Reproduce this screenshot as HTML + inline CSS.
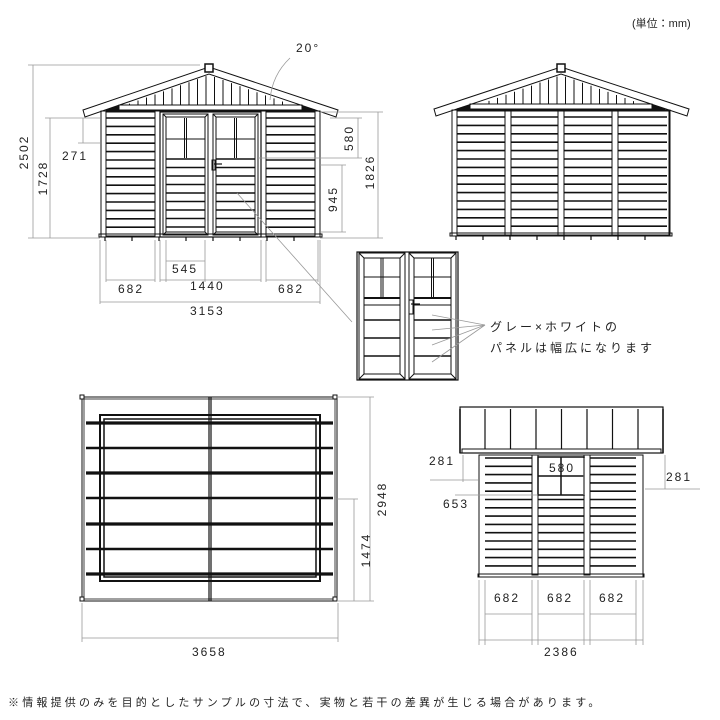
<!DOCTYPE html>
<html><head><meta charset="utf-8">
<style>
html,body{margin:0;padding:0;background:#fff;width:720px;height:720px;overflow:hidden}
svg{display:block}
text{font-family:"Liberation Sans","Noto Sans CJK JP",sans-serif;fill:#222}
.d{font-size:12px;letter-spacing:2px}
.j{font-size:12px;letter-spacing:3px}
</style></head><body>
<svg id="s" width="720" height="720" viewBox="0 0 720 720" xmlns="http://www.w3.org/2000/svg">
<g id="g" fill="none" stroke="#111" stroke-width="1"></g>
<g id="dim" fill="none" stroke="#999" stroke-width="0.8"></g>
<text x="632" y="27" style="font-size:11px">(単位：mm)</text>
<text class="d" x="296" y="52">20°</text>
<text class="d" transform="translate(28,152) rotate(-90)" text-anchor="middle">2502</text>
<text class="d" transform="translate(47,178) rotate(-90)" text-anchor="middle">1728</text>
<text class="d" x="62" y="160">271</text>
<text class="d" transform="translate(353,138) rotate(-90)" text-anchor="middle">580</text>
<text class="d" transform="translate(374,172) rotate(-90)" text-anchor="middle">1826</text>
<text class="d" transform="translate(337,199) rotate(-90)" text-anchor="middle">945</text>
<text class="d" x="172" y="273">545</text>
<text class="d" x="118" y="293">682</text>
<text class="d" x="190" y="290">1440</text>
<text class="d" x="278" y="293">682</text>
<text class="d" x="190" y="315">3153</text>
<text class="j" x="490" y="331">グレー×ホワイトの</text>
<text class="j" x="490" y="352">パネルは幅広になります</text>
<text class="d" transform="translate(386,499) rotate(-90)" text-anchor="middle">2948</text>
<text class="d" transform="translate(370,550) rotate(-90)" text-anchor="middle">1474</text>
<text class="d" x="192" y="656">3658</text>
<text class="d" x="429" y="465">281</text>
<text class="d" x="666" y="481">281</text>
<text class="d" x="443" y="508">653</text>
<text class="d" x="549" y="472">580</text>
<text class="d" x="494" y="602">682</text>
<text class="d" x="547" y="602">682</text>
<text class="d" x="599" y="602">682</text>
<text class="d" x="544" y="656">2386</text>
<text x="8" y="706" style="font-size:11px;letter-spacing:3.2px">※情報提供のみを目的としたサンプルの寸法で、実物と若干の差異が生じる場合があります。</text>
</svg>
<script>
var G=document.getElementById('g'),D=document.getElementById('dim'),NS='http://www.w3.org/2000/svg';
function el(p,t,a){var e=document.createElementNS(NS,t);for(var k in a)e.setAttribute(k,a[k]);p.appendChild(e);return e;}
function L(x1,y1,x2,y2,w,p){el(p||G,'line',{x1:x1,y1:y1,x2:x2,y2:y2,'stroke-width':w||1});}
function R(x,y,w,h,sw,f){el(G,'rect',{x:x,y:y,width:w,height:h,'stroke-width':sw||1,fill:f||'none'});}
function DL(x1,y1,x2,y2){L(x1,y1,x2,y2,0.8,D);}
function slats(x1,x2,y1,y2,st){for(var y=y1;y<=y2;y+=st){L(x1,y,x2,y,1.6);}}
function house(ax,ay,wl,wr,wt,wb,el1,er){
 el(G,'polygon',{points:[el1,wt-1,ax,ay,er,wt-1,er-2,wt+6,ax,ay+7,el1+2,wt+6].join(' '),'stroke-width':1});
 for(var x=wl+20;x<wr-15;x+=8.5){var dy=Math.abs(x-ax)*0.36;var yt=ay+8+dy;if(yt<wt-6)L(x,yt,x,wt-6,1);}
 R(wl+18,wt-6,wr-wl-36,5,1);
 el(G,'polygon',{points:[wl+5,wt-1,wl+18,wt-5,wl+18,wt-1].join(' '),fill:'#111'});
 el(G,'polygon',{points:[wr-5,wt-1,wr-18,wt-5,wr-18,wt-1].join(' '),fill:'#111'});
 R(ax-4,ay-3,8,8,1.5,'#fff');
 R(wl,wt,wr-wl,wb-wt,1);
 R(wl-2,wb-3,wr-wl+4,3,1);
 for(var x=wl+4;x<wr;x+=27)L(x,wb,x,wb+4,1.2);
}
house(209,67,101,320,111,237,83,338);
R(106,112,49,124,1);R(266,112,49,124,1);
slats(106,155,118,232,8.4);slats(266,315,118,232,8.4);
R(160,112,101,125,1.2);
[[163,208],[213,258]].forEach(function(d){
 R(d[0],114,d[1]-d[0],121,1);R(d[0]+3,117,d[1]-d[0]-6,115,1);
 L(d[0],114,d[0]+3,117);L(d[1],114,d[1]-3,117);L(d[0],235,d[0]+3,232);L(d[1],235,d[1]-3,232);
 var m=(d[0]+d[1])/2;L(m-1,118,m-1,158,1);L(m+1,118,m+1,158,1);L(d[0]+3,139,d[1]-3,139,1);
 slats(d[0]+3,d[1]-3,159,228,8.5);
});
R(212,160,3,10,1);L(214,164,222,164,1.2);
DL(33,65,33,238);DL(28,65,200,65);DL(50,118,50,238);DL(45,118,100,118);DL(28,238,100,238);
DL(83,118,83,143);DL(78,143,100,143);
DL(358,118,358,158);DL(378,112,378,238);DL(320,112,383,112);DL(330,118,362,118);DL(258,158,362,158);
DL(342,165,342,232);DL(320,165,346,165);DL(320,232,346,232);DL(320,238,383,238);
DL(166,261,205,261);[106,155,160,166,205,261,266,318].forEach(function(x){DL(x,240,x,282)});
DL(100,240,100,304);DL(320,240,320,304);
DL(106,280,155,280);DL(160,280,261,280);DL(266,280,318,280);DL(100,302,320,302);
el(D,'path',{d:'M290,58 Q272,75 270,100'});
DL(237,193,352,322);
house(561,67,452,670,110,236,434,689);
R(457,111,212,124,1);
[505,558,612].forEach(function(x){R(x,111,6,124,1)});
[[457,505],[511,558],[564,612],[618,667]].forEach(function(c){slats(c[0],c[1],117,232,8.4)});
R(357,252,101,128,1.2);
[[359,405],[409,456]].forEach(function(d){
 R(d[0],253,d[1]-d[0],126,1);R(d[0]+5,258,d[1]-d[0]-10,116,1);
 L(d[0],253,d[0]+5,258);L(d[1],253,d[1]-5,258);L(d[0],379,d[0]+5,374);L(d[1],379,d[1]-5,374);
 var m=(d[0]+d[1])/2;L(m-1,258,m-1,298,1);L(m+1,258,m+1,298,1);L(d[0]+5,277,d[1]-5,277,1);
 L(d[0]+5,298,d[1]-5,298,2);L(d[0]+5,305,d[1]-5,305,1);
 [320,338,356].forEach(function(y){L(d[0]+5,y,d[1]-5,y,1.4)});
});
R(409,300,4,14,1);L(411,304,420,304,1.2);
[[432,315],[432,330],[432,345],[432,362]].forEach(function(p){DL(p[0],p[1],485,325)});
R(82,397,255,204,1);R(84,399,251,200,0.8);
L(209,397,209,601,1.2);L(211,397,211,601,1.2);
R(100,415,220,166,2);R(104,419,212,158,1.5);
[423,448,473,498,524,549,574].forEach(function(y,i){L(86,y,333,y,i%2?2.5:3.2);if(i%2)L(104,y,316,y,1)});
[[82,397],[335,397],[82,599],[335,599]].forEach(function(p){R(p[0]-2,p[1]-2,4,4,1,'#fff')});
DL(370,397,370,601);DL(337,397,374,397);DL(337,601,374,601);DL(354,499,354,601);DL(337,499,358,499);
DL(82,603,82,642);DL(338,603,338,642);DL(82,638,338,638);
R(460,407,203,46,1.2);R(462,449,199,4,1);
for(var x=485;x<660;x+=25.5)L(x,409,x,449,1.2);
L(460,409,460,453,1.5);L(663,409,663,453,1.5);
R(479,455,164,122,1);R(478,574,166,3,1);
[532,584].forEach(function(x){R(x,455,6,120,1)});
[[485,532],[538,584],[590,636]].forEach(function(c,i){slats(c[0],c[1],458,572,8.3)});
R(538,457,46,38,1.5,'#fff');L(561,457,561,495,1.5);L(538,476,584,476,1.5);
DL(463,455,463,482);DL(430,480,478,480);DL(665,455,665,489);DL(645,489,700,489);
DL(455,495,538,495);DL(584,458,584,495);
[479,485,532,538,584,590,636,643].forEach(function(x){DL(x,580,x,645)});
DL(485,614,532,614);DL(538,614,584,614);DL(590,614,636,614);DL(479,640,643,640);
</script>
</body></html>
